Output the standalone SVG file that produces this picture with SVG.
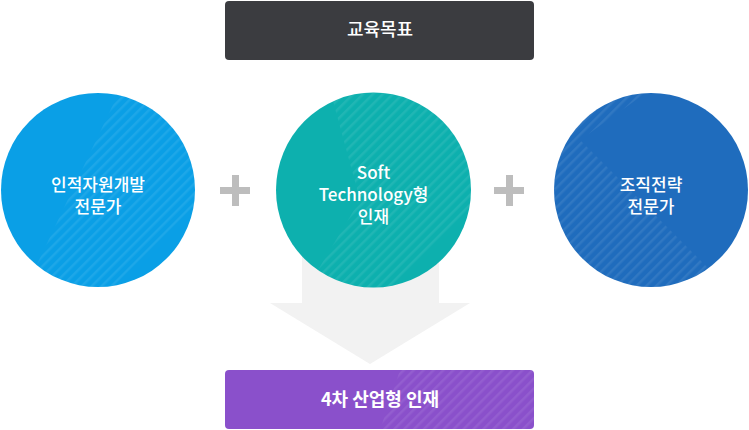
<svg xmlns="http://www.w3.org/2000/svg" width="749" height="430" viewBox="0 0 749 430">
<style>
.t{font-family:"Noto Sans CJK KR","Noto Sans",sans-serif;fill:#fff;text-anchor:middle}
.c{font-size:17px;font-weight:500}
.b{font-size:18px;font-weight:500}
.plus{fill:#bdbdbd}
</style>
<defs>
<pattern id="st" width="7" height="7" patternUnits="userSpaceOnUse" patternTransform="rotate(45)">
<rect x="0" y="0" width="2.5" height="7" fill="#fff" fill-opacity="0.08"/>
</pattern>
<clipPath id="cl1"><circle cx="98" cy="190" r="97"/></clipPath>
<clipPath id="cl2"><circle cx="373.5" cy="190" r="97.5"/></clipPath>
<clipPath id="cl3"><circle cx="651" cy="190" r="97"/></clipPath>
<clipPath id="cl4"><rect x="225" y="370" width="309" height="59" rx="4"/></clipPath>
</defs>
<g id="connectors">
<polygon points="302,240 439,240 439,303 470,303 370,364 270,303 302,303" fill="#f2f2f2"/>
<g id="plus1" class="plus"><rect x="220" y="187" width="30" height="7"/><rect x="232" y="175" width="7" height="31"/></g>
<g id="plus2" class="plus"><rect x="494" y="187" width="30" height="7"/><rect x="506" y="175" width="7" height="31"/></g>
</g>
<g id="goal">
<rect x="225" y="1" width="309" height="59" rx="4" fill="#3b3c40"/>
<text class="t b" x="380" y="36">교육목표</text>
</g>
<g id="node1">
<circle cx="98" cy="190" r="97" fill="#0a9fe6"/>
<polygon clip-path="url(#cl1)" points="120,90 200,90 200,200 100,300 20,300" fill="url(#st)"/>
<text class="t c" x="98" y="191">인적자원개발</text>
<text class="t c" x="98" y="213">전문가</text>
</g>
<g id="node2">
<circle cx="373.5" cy="190" r="97.5" fill="#0db0ae"/>
<polygon clip-path="url(#cl2)" points="330,90 480,90 480,200 380,300 300,300 360,200" fill="url(#st)"/>
<text class="t c" x="373.5" y="179">Soft</text>
<text class="t c" x="373.5" y="201">Technology형</text>
<text class="t c" x="373.5" y="223">인재</text>
</g>
<g id="node3">
<circle cx="651" cy="190" r="97" fill="#1f6cbd"/>
<polygon clip-path="url(#cl3)" points="550,90 650,90 580,140 710,270 710,300 550,300" fill="url(#st)"/>
<text class="t c" x="651" y="191">조직전략</text>
<text class="t c" x="651" y="213">전문가</text>
</g>
<g id="result">
<rect x="225" y="370" width="309" height="59" rx="4" fill="#8a50cb"/>
<polygon clip-path="url(#cl4)" points="400,370 540,370 540,430 380,430" fill="url(#st)"/>
<text class="t b" x="380" y="406" style="font-weight:700">4차 산업형 인재</text>
</g>
</svg>
